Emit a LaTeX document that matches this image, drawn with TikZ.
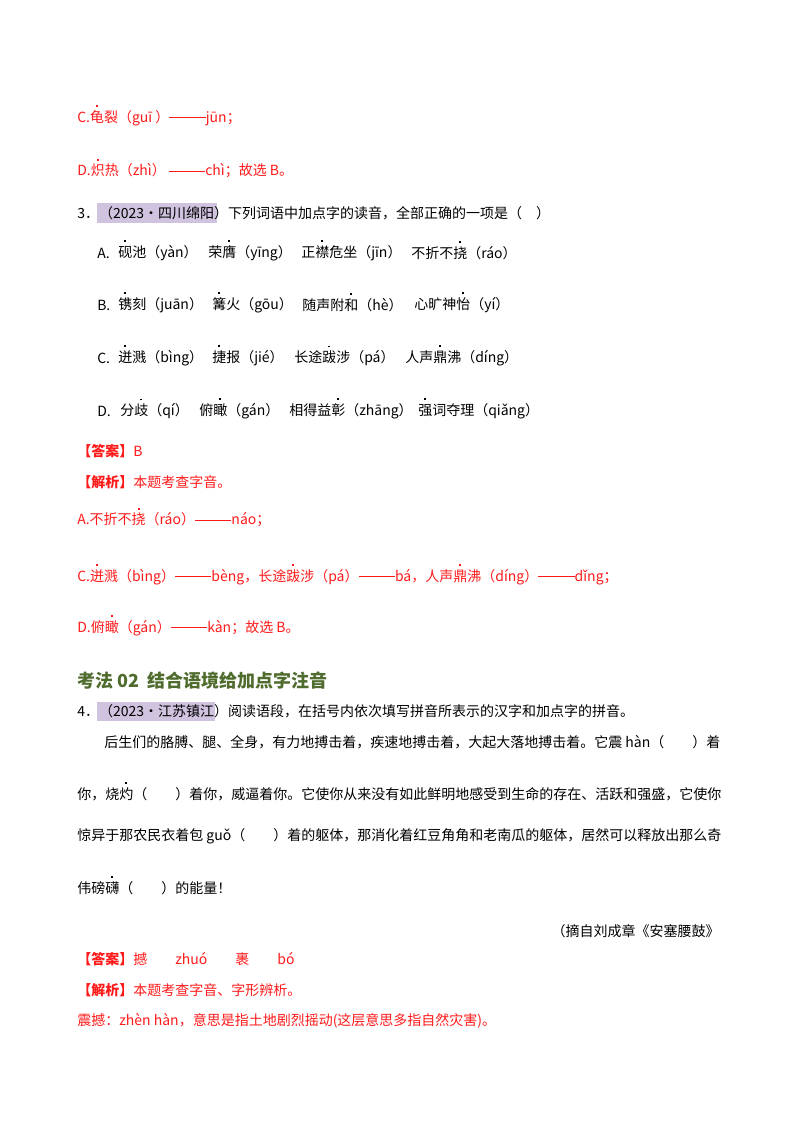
\documentclass[tikz,border=0pt]{standalone}
\usepackage{fontspec}
\setmainfont{Noto Sans CJK SC}
\usepackage{xcolor}
\definecolor{rd}{HTML}{FF1A1A}
\definecolor{hl}{HTML}{CFC3DF}
\definecolor{gr}{HTML}{4F6B2D}
\newcommand\dt[1]{\ooalign{#1\cr\hidewidth\raisebox{1.08em}{\rule{1.4pt}{1.4pt}}\hidewidth\cr}}
\newcommand\dd{\rule[0.33em]{2.6em}{0.5pt}}
\begin{document}
\begin{tikzpicture}[x=0.75pt,y=-0.75pt,
  t/.style={anchor=west,inner sep=0pt,font=\fontsize{10.5}{12}\selectfont},
  r/.style={t,text=rd}]
\useasboundingbox (0,0) rectangle (800,1132);
\fill[hl] (97,203) rectangle (217,223);
\fill[hl] (97,702) rectangle (215,721);
\node[r] (l1) at (77,118) {C.\dt{龟}裂（guī ）\dd jūn；};
\node[r] (l2) at (77,171) {D.\dt{炽}热（zhì） \dd chì；故选 B。};
\node[t] (q3) at (77,213) {3．（2023·四川绵阳）下列词语中加点字的读音，全部正确的一项是（　）};
\node[t] (a0) at (97,253) {A.};
\node[t] (a1) at (118,253) {\dt{砚}池（yàn）};
\node[t] (a2) at (208,253) {荣\dt{膺}（yīng）};
\node[t] (a3) at (301,253) {正\dt{襟}危坐（jīn）};
\node[t] (a4) at (411,253) {不折不\dt{挠}（ráo）};
\node[t] (b0) at (97,305) {B.};
\node[t] (b1) at (118,305) {\dt{镌}刻（juān）};
\node[t] (b2) at (212,305) {\dt{篝}火（gōu）};
\node[t] (b3) at (302,305) {随声附\dt{和}（hè）};
\node[t] (b4) at (414,305) {心旷神\dt{怡}（yí）};
\node[t] (c0) at (97,358) {C.};
\node[t] (c1) at (118,358) {\dt{迸}溅（bìng）};
\node[t] (c2) at (212,358) {\dt{捷}报（jié）};
\node[t] (c3) at (294,358) {长途\dt{跋}涉（pá）};
\node[t] (c4) at (405,358) {人声\dt{鼎}沸（díng）};
\node[t] (d0) at (97,411) {D.};
\node[t] (d1) at (120,411) {分\dt{歧}（qí）};
\node[t] (d2) at (199,411) {俯\dt{瞰}（gán）};
\node[t] (d3) at (289,411) {相得益\dt{彰}（zhāng）};
\node[t] (d4) at (418,411) {\dt{强}词夺理（qiǎng）};
\node[r] (ans1) at (77,451) {\textbf{【答案】}B};
\node[r] (jx1) at (77,482) {\textbf{【解析】}本题考查字音。};
\node[r] (e1) at (77,520) {A.不折不\dt{挠}（ráo）\dd náo；};
\node[r] (e2) at (77,577) {C.\dt{迸}溅（bìng）\dd bèng，长途\dt{跋}涉（pá）\dd bá，人声\dt{鼎}沸（díng）\dd dǐng；};
\node[r] (e3) at (77,628) {D.俯\dt{瞰}（gán）\dd kàn；故选 B。};
\node[t,text=gr,font=\fontsize{13.5}{15}\bfseries\selectfont] (h) at (77,681) {考法 02\ \ 结合语境给加点字注音};
\node[t] (q4) at (77,711) {4．（2023·江苏镇江）阅读语段，在括号内依次填写拼音所表示的汉字和加点字的拼音。};
\node[t] (p1) at (104,742) {后生们的胳膊、腿、全身，有力地搏击着，疾速地搏击着，大起大落地搏击着。它震 hàn（　　）着};
\node[t] (p2) at (77,794) {你，烧\dt{灼}（　　）着你，威逼着你。它使你从来没有如此鲜明地感受到生命的存在、活跃和强盛，它使你};
\node[t] (p3) at (77,836) {惊异于那农民衣着包 guǒ（　　）着的躯体，那消化着红豆角角和老南瓜的躯体，居然可以释放出那么奇};
\node[t] (p4) at (77,888) {伟磅\dt{礴}（　　）的能量！};
\node[t,anchor=east] (src) at (720,931) {（摘自刘成章《安塞腰鼓》};
\node[r] (ans2) at (77,959) {\textbf{【答案】}撼\qquad zhuó\qquad 裹\qquad bó};
\node[r] (jx2) at (77,990) {\textbf{【解析】}本题考查字音、字形辨析。};
\node[r] (e4) at (77,1021) {震撼：zhèn hàn，意思是指土地剧烈摇动(这层意思多指自然灾害)。};
\end{tikzpicture}
\end{document}
